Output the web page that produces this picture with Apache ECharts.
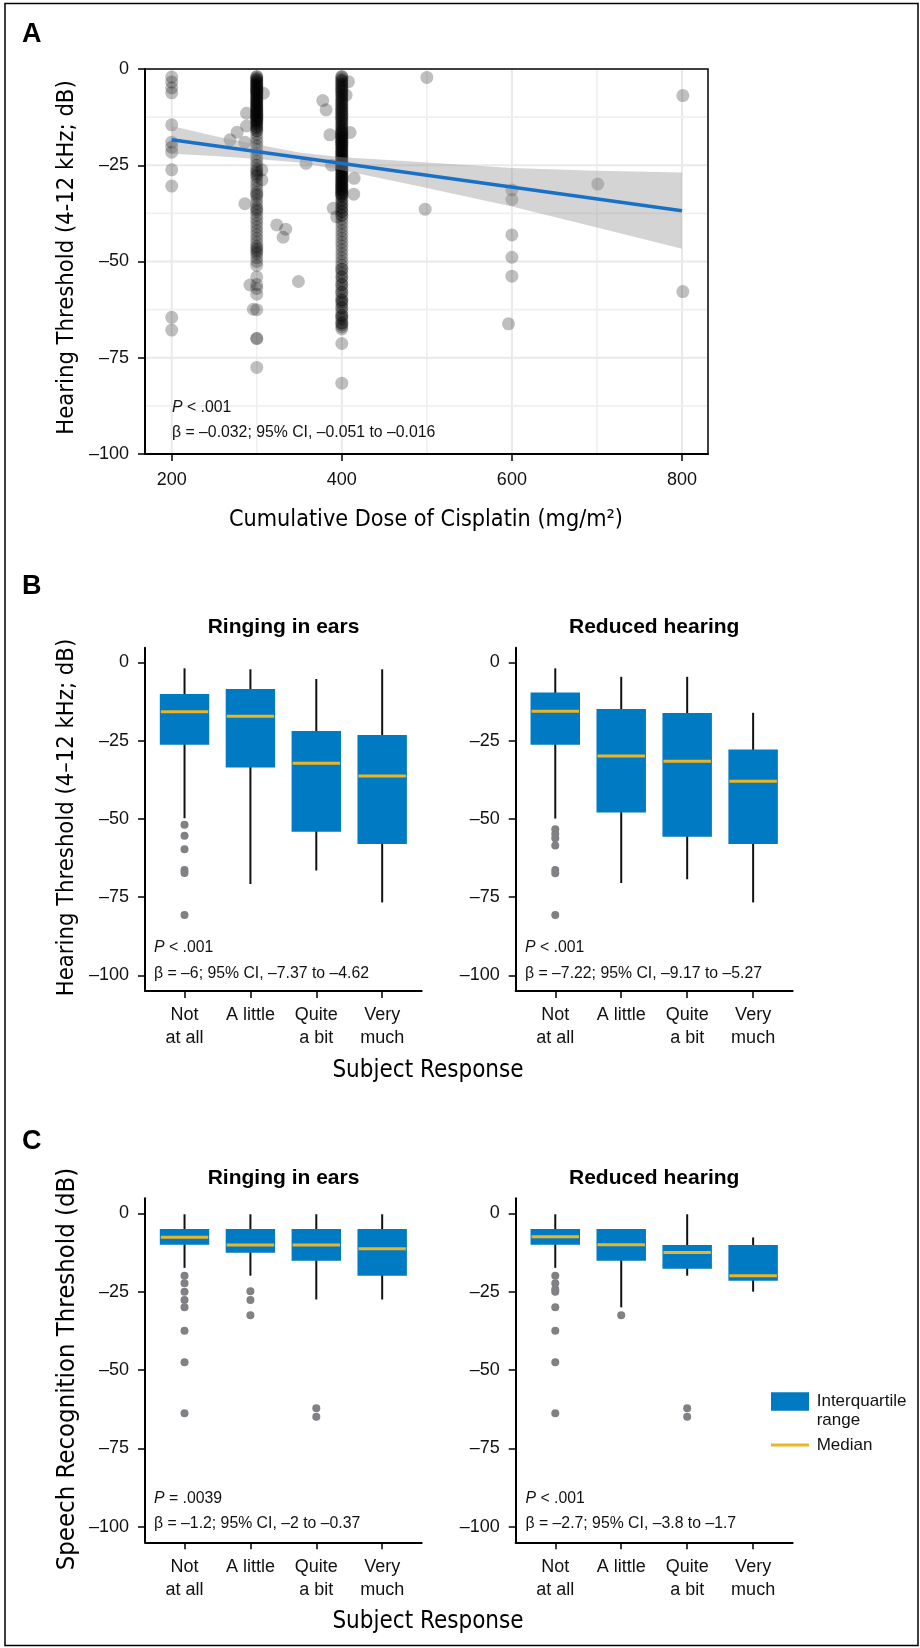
<!DOCTYPE html>
<html>
<head>
<meta charset="utf-8">
<script src="https://cdn.jsdelivr.net/npm/echarts/dist/echarts.min.js"></script>
<style>
  html, body { margin: 0; padding: 0; background: #fff; }
  #c { width: 920px; height: 1648px; }
</style>
</head>
<body>
<div id="c"></div>
<script>
// ---------------- DATA ----------------
// Panel A: scatter of hearing threshold vs cumulative cisplatin dose
const hearingAt300 = [
  -2, -2.5, -3, -3.5, -4, -4.5, -5, -5.5, -6, -6.5, -7, -7.5, -8, -8.5, -9, -9.5, -10, -10.5,
  -11, -11.5, -12, -12.5, -13, -13.5, -14, -14.5, -15, -15.5, -16, -17, -18,
  -2.5, -3.5, -4.5, -5.5, -6.5, -7.5, -8.5, -9.5, -10.5, -11.5, -12.5, -13.5, -2, -3, -4, -5,
  -6, -7, -8, -9, -10, -11, -12, -13, -14, -15, -16,
  -19, -20, -21, -22, -23, -24, -25, -26, -26.5, -27, -27.5, -28, -29, -30, -31, -32, -32.5,
  -33, -34, -35, -36, -36.5, -37, -38, -39, -40, -41, -42, -43, -44, -45, -46, -46.5, -47,
  -47.5, -48, -49, -50,
  -51, -54, -56, -57, -58.5, -62.5, -70, -70, -77.5
];
const hearingAt400 = [
  -2, -2.5, -3, -3.5, -4, -4.5, -5, -5.5, -6, -6.5, -7, -7.5, -8, -8.5, -9, -9.5, -10, -10.5,
  -11, -11.5, -12, -12.5, -13, -13.5, -14, -14.5, -15, -15.5, -16,
  -2, -3, -4, -5, -6, -7, -8, -9, -10, -11, -12, -13, -14, -15, -16,
  -16.5, -17, -17.5, -18, -18.5, -19, -19.5, -20, -20.5, -21, -21.5, -22, -22.5, -23, -23.5, -24, -24.5,
  -16.5, -17, -17.5, -18, -18.5, -19, -19.5, -20, -20.5, -21, -21.5, -22, -22.5, -23, -23.5, -24, -24.5,
  -25, -25.5, -26, -26.5, -27, -27.5, -28, -28.5, -29, -29.5, -30, -30.5, -31, -31.5, -32, -32.5, -33, -34,
  -25, -26, -27, -28, -29, -30, -31, -32, -33, -34, -35, -36, -37, -38,
  -25.5, -26.5, -27.5, -28.5, -29.5, -30.5, -31.5, -32.5,
  -35, -36, -37, -38, -39, -40, -41, -42, -43, -44, -45, -46, -47, -48, -49, -50,
  -51, -52, -53, -54, -55, -56, -57, -58, -59, -60, -60.5, -61, -62, -63, -64, -64.5, -65, -66,
  -66.5, -67, -67.5,
  -52, -54, -56, -58, -60, -62, -64, -66,
  -71.3, -81.6
];
const otherPoints = [ // [dose, threshold]
  [200, -2.1], [200, -3.4], [200, -4.9], [200, -6.2], [200, -14.5], [200, -19], [200, -20.3],
  [200, -21.6], [200, -26.2], [200, -30.4], [200, -64.5], [200, -67.8],
  [268.6, -18.4], [277, -16.4], [286, -35], [288, -11.5], [288, -14.8], [286, -19],
  [307.8, -6.3], [306, -26.2], [306, -28.8], [323.5, -40.5], [334, -41.6], [331, -43.7],
  [358, -24.5], [349, -55.2], [292, -56.1], [296, -62.4],
  [377.6, -8.2], [381.5, -10.6], [386, -17.1], [388, -25], [390, -36.2], [394, -38.4],
  [407.8, -3.3], [405, -6.8], [409.8, -16.5], [414.5, -28.4], [414, -32.5],
  [500, -2.2], [498, -36.4], [600, -31.4], [600, -33.9], [600, -43.1], [600, -48.9],
  [600, -53.8], [596, -66.2], [701, -29.9], [801, -6.9], [801, -57.8]
];
const fitDose = [200, 800];
const fitThreshold = [-18.4, -36.8];
const ciDose = [200, 250, 300, 350, 400, 450, 500, 600, 700, 800];
const ciUpper = [-14.8, -17.4, -19.6, -21.7, -22.9, -23.6, -24.3, -25.7, -26.4, -26.9];
const ciLower = [-22.0, -22.6, -23.4, -24.3, -26.3, -28.6, -30.9, -35.7, -41.2, -46.7];
const doseTicks = [200, 400, 600, 800];
const doseGridMajor = [200, 400, 600, 800];
const doseGridMinor = [300, 500, 700];
const thresholdTicks = [0, -25, -50, -75, -100];
const thresholdGridMajor = [-25, -50, -75];
const thresholdGridMinor = [-12.5, -37.5, -62.5, -87.5];

// Panels B and C: box plots, rows are [lower whisker, Q1, median, Q3, upper whisker]
const categories = ['Not\nat all', 'A little', 'Quite\na bit', 'Very\nmuch'];
const bRingingBoxes = [
  [-49.8, -26.3, -15.8, -10.1, -1.9],
  [-70.8, -33.6, -17.2, -8.5, -2.2],
  [-66.5, -54.1, -32.2, -21.9, -5.3],
  [-76.7, -58.0, -36.3, -23.2, -2.2]
];
const bRingingOutliers = [[1, -51.9], [1, -55.4], [1, -59.7], [1, -66.3], [1, -67.3], [1, -80.7]];
const bReducedBoxes = [
  [-49.9, -26.3, -15.6, -9.6, -1.9],
  [-70.5, -48.0, -29.9, -14.9, -4.6],
  [-69.3, -55.7, -31.6, -16.2, -4.6],
  [-76.7, -58.0, -38.0, -27.8, -16.1]
];
const bReducedOutliers = [[1, -53.3], [1, -54.8], [1, -56.2], [1, -58.5], [1, -66.3], [1, -67.4], [1, -80.7]];
const cRingingBoxes = [
  [-17.4, -10.0, -7.6, -5.0, -0.3],
  [-19.9, -12.6, -10.1, -5.0, -0.3],
  [-27.5, -15.1, -10.1, -5.0, -0.3],
  [-27.5, -19.9, -11.3, -5.0, -0.3]
];
const cRingingOutliers = [[1, -19.9], [1, -22.3], [1, -25], [1, -27.7], [1, -30], [1, -37.5], [1, -47.5],
  [1, -63.8], [2, -24.9], [2, -27.7], [2, -32.5], [3, -62.2], [3, -64.9]];
const cReducedBoxes = [
  [-17.4, -10.0, -7.5, -5.0, -0.3],
  [-30.0, -15.1, -10.0, -5.0, -5.0],
  [-19.9, -17.7, -12.5, -10.1, -0.3],
  [-25.0, -21.5, -19.9, -10.1, -7.7]
];
const cReducedOutliers = [[1, -19.9], [1, -22.3], [1, -24.2], [1, -25], [1, -30], [1, -37.5], [1, -47.5],
  [1, -63.8], [2, -32.5], [3, -62.2], [3, -64.9]];
const categoryTicks = [1, 2, 3, 4];

// ---------------- STYLE ----------------
const SANS = '"Liberation Sans", Arial, Helvetica, sans-serif';
const NARROW = '"DejaVu Sans Condensed", "Liberation Sans Narrow", sans-serif';
const BLUE = '#007AC2';
const YELLOW = '#EBB523';
const OUTLIER = '#808085';
const FIT = '#1a70c5';
const NOTE_FONT = '15.8px ' + SANS;

const minus = v => (v < 0 ? '\u2013' + Math.abs(v) : String(v));

function yAxisCfg(gridIndex, min, max) {
  return {
    gridIndex, type: 'value', min, max,
    axisLine: { show: true, onZero: false, lineStyle: { color: '#000', width: 2 } },
    axisTick: { show: true, customValues: thresholdTicks, length: 7, lineStyle: { color: '#000', width: 1.5 } },
    axisLabel: { customValues: thresholdTicks, formatter: minus, fontSize: 18, fontFamily: SANS, color: '#111', margin: 16 },
    splitLine: { show: false }
  };
}
function catAxisCfg(gridIndex) {
  return {
    gridIndex, type: 'value', min: 0.4, max: 4.6,
    axisLine: { show: true, onZero: false, lineStyle: { color: '#000', width: 2 } },
    axisTick: { show: true, customValues: categoryTicks, length: 7, lineStyle: { color: '#000', width: 1.5 } },
    axisLabel: { customValues: categoryTicks, formatter: v => categories[Math.round(v) - 1],
      fontSize: 18, lineHeight: 23, fontFamily: SANS, color: '#111', margin: 13 },
    splitLine: { show: false }
  };
}

function renderBox(params, api) {
  const x = api.value(0);
  const lo = api.value(1), q1 = api.value(2), md = api.value(3), q3 = api.value(4), hi = api.value(5);
  const w = api.size([0.75, 0])[0];
  const pLo = api.coord([x, lo]), pHi = api.coord([x, hi]);
  const pQ1 = api.coord([x, q1]), pQ3 = api.coord([x, q3]), pMd = api.coord([x, md]);
  return {
    type: 'group',
    children: [
      { type: 'line', shape: { x1: pLo[0], y1: pLo[1], x2: pHi[0], y2: pHi[1] }, style: { stroke: '#111', lineWidth: 2 } },
      { type: 'rect', shape: { x: pQ3[0] - w / 2, y: pQ3[1], width: w, height: pQ1[1] - pQ3[1] }, style: { fill: BLUE } },
      { type: 'line', shape: { x1: pMd[0] - w / 2 + 1, y1: pMd[1], x2: pMd[0] + w / 2 - 1, y2: pMd[1] }, style: { stroke: YELLOW, lineWidth: 3 } }
    ]
  };
}

function boxSeries(idx, boxes, outliers) {
  return [
    {
      type: 'custom', xAxisIndex: idx, yAxisIndex: idx, renderItem: renderBox, z: 2,
      data: boxes.map((b, i) => [i + 1, b[0], b[1], b[2], b[3], b[4]]),
      encode: { x: 0, y: [1, 2, 3, 4, 5] }, silent: true
    },
    {
      type: 'scatter', xAxisIndex: idx, yAxisIndex: idx, z: 3, symbolSize: 8,
      itemStyle: { color: OUTLIER, opacity: 1 }, data: outliers, silent: true
    }
  ];
}

// ---------------- TEXT HELPERS ----------------
function txt(x, y, text, font, opts) {
  opts = opts || {};
  return {
    type: 'text', x, y, rotation: opts.rotation || 0, z: 100,
    style: {
      text, font, fill: opts.fill || '#000',
      align: opts.align || 'left', textAlign: opts.align || 'left',
      verticalAlign: 'middle', textVerticalAlign: 'middle',
      lineHeight: opts.lineHeight
    }
  };
}
function richTxt(x, y, italicPart, rest) {
  const base = { fontSize: 15.8, fontFamily: SANS, fill: '#111', color: '#111' };
  return {
    type: 'text', x, y, z: 100,
    style: {
      text: '{i|' + italicPart + '}{n|' + rest + '}',
      fontSize: 15.8, fontFamily: SANS, fill: '#111',
      align: 'left', textAlign: 'left', verticalAlign: 'middle', textVerticalAlign: 'middle',
      rich: { i: Object.assign({ fontStyle: 'italic' }, base), n: base }
    }
  };
}

const graphics = [
  { type: 'rect', shape: { x: 5, y: 3.5, width: 913, height: 1642 }, style: { fill: 'none', stroke: '#000', lineWidth: 1.5 }, z: 100 },
  txt(22, 35, 'A', 'bold 27px ' + SANS),
  txt(22, 587, 'B', 'bold 27px ' + SANS),
  txt(22, 1142, 'C', 'bold 27px ' + SANS),
  // Panel A
  txt(67, 257.5, 'Hearing Threshold (4-12 kHz; dB)', '23.6px ' + NARROW, { align: 'center', rotation: Math.PI / 2 }),
  txt(426, 520, 'Cumulative Dose of Cisplatin (mg/m\u00B2)', '23.2px ' + NARROW, { align: 'center' }),
  richTxt(172, 408, 'P', ' < .001'),
  txt(172, 433, '\u03B2 = \u20130.032; 95% CI, \u20130.051 to \u20130.016', NOTE_FONT, { fill: '#111' }),
  // Panel B
  txt(283.5, 627, 'Ringing in ears', 'bold 21px ' + SANS, { align: 'center' }),
  txt(654.2, 627, 'Reduced hearing', 'bold 21px ' + SANS, { align: 'center' }),
  txt(67, 817.5, 'Hearing Threshold (4\u201312 kHz; dB)', '23.6px ' + NARROW, { align: 'center', rotation: Math.PI / 2 }),
  txt(428, 1070.5, 'Subject Response', '24px ' + NARROW, { align: 'center' }),
  richTxt(154, 948, 'P', ' < .001'),
  txt(154, 974, '\u03B2 = \u20136; 95% CI, \u20137.37 to \u20134.62', NOTE_FONT, { fill: '#111' }),
  richTxt(525, 948, 'P', ' < .001'),
  txt(525, 974, '\u03B2 = \u20137.22; 95% CI, \u20139.17 to \u20135.27', NOTE_FONT, { fill: '#111' }),
  // Panel C
  txt(283.5, 1178.5, 'Ringing in ears', 'bold 21px ' + SANS, { align: 'center' }),
  txt(654.2, 1178.5, 'Reduced hearing', 'bold 21px ' + SANS, { align: 'center' }),
  txt(67, 1369, 'Speech Recognition Threshold (dB)', '25.5px ' + NARROW, { align: 'center', rotation: Math.PI / 2 }),
  txt(428, 1621.5, 'Subject Response', '24px ' + NARROW, { align: 'center' }),
  richTxt(154, 1498.5, 'P', ' = .0039'),
  txt(154, 1524, '\u03B2 = \u20131.2; 95% CI, \u20132 to \u20130.37', NOTE_FONT, { fill: '#111' }),
  richTxt(525.5, 1498.5, 'P', ' < .001'),
  txt(525.5, 1524, '\u03B2 = \u20132.7; 95% CI, \u20133.8 to \u20131.7', NOTE_FONT, { fill: '#111' }),
  // Legend
  { type: 'rect', shape: { x: 771, y: 1392.3, width: 38, height: 18.4 }, style: { fill: BLUE }, z: 100 },
  { type: 'line', shape: { x1: 771, y1: 1445, x2: 809, y2: 1445 }, style: { stroke: YELLOW, lineWidth: 3 }, z: 100 },
  txt(816.7, 1410.5, 'Interquartile\nrange', '17px ' + SANS, { lineHeight: 19, fill: '#111' }),
  txt(816.7, 1445, 'Median', '17px ' + SANS, { fill: '#111' })
];

// ---------------- CHART ----------------
const chart = echarts.init(document.getElementById('c'), null, { renderer: 'canvas', width: 920, height: 1648 });

const scatterData = []
  .concat(hearingAt300.map(v => [300, v]))
  .concat(hearingAt400.map(v => [400, v]))
  .concat(otherPoints);

const option = {
  animation: false,
  backgroundColor: '#fff',
  grid: [
    { left: 145, top: 69, width: 563, height: 385, show: true, borderColor: '#000', borderWidth: 1.5, backgroundColor: 'transparent' },
    { left: 145, top: 647.7, width: 276.7, height: 343.3 },
    { left: 515.7, top: 647.7, width: 277, height: 343.3 },
    { left: 145, top: 1198.3, width: 276.7, height: 344 },
    { left: 515.7, top: 1198.3, width: 277, height: 344 }
  ],
  xAxis: [
    {
      gridIndex: 0, type: 'value', min: 168.6, max: 830.6,
      axisLine: { show: true, onZero: false, lineStyle: { color: '#000', width: 2 } },
      axisTick: { show: true, customValues: doseTicks, length: 7, lineStyle: { color: '#000', width: 1.5 } },
      axisLabel: { customValues: doseTicks, fontSize: 18, fontFamily: SANS, color: '#111', margin: 17 },
      splitLine: { show: false }
    },
    catAxisCfg(1), catAxisCfg(2), catAxisCfg(3), catAxisCfg(4)
  ],
  yAxis: [
    yAxisCfg(0, -100, 0),
    yAxisCfg(1, -105, 4.7), yAxisCfg(2, -105, 4.7),
    yAxisCfg(3, -105, 4.8), yAxisCfg(4, -105, 4.8)
  ],
  graphic: { elements: graphics },
  series: [
    // grid lines, panel A
    {
      type: 'custom', xAxisIndex: 0, yAxisIndex: 0, z: 1, silent: true, clip: false,
      data: doseGridMajor.map(v => [v, -50, 1]).concat(doseGridMinor.map(v => [v, -50, 0])),
      encode: { x: 0, y: 1 },
      renderItem: (params, api) => {
        const p = api.coord([api.value(0), -50]);
        const cs = params.coordSys;
        return { type: 'line', shape: { x1: p[0], y1: cs.y + 1, x2: p[0], y2: cs.y + cs.height - 1 },
          style: { stroke: api.value(2) ? '#e9e9e9' : '#efefef', lineWidth: api.value(2) ? 2 : 1.6 } };
      }
    },
    {
      type: 'custom', xAxisIndex: 0, yAxisIndex: 0, z: 1, silent: true, clip: false,
      data: thresholdGridMajor.map(v => [500, v, 1]).concat(thresholdGridMinor.map(v => [500, v, 0])),
      encode: { x: 0, y: 1 },
      renderItem: (params, api) => {
        const p = api.coord([500, api.value(1)]);
        const cs = params.coordSys;
        return { type: 'line', shape: { x1: cs.x + 1, y1: p[1], x2: cs.x + cs.width - 1, y2: p[1] },
          style: { stroke: api.value(2) ? '#e9e9e9' : '#efefef', lineWidth: api.value(2) ? 2 : 1.6 } };
      }
    },
    {
      type: 'scatter', xAxisIndex: 0, yAxisIndex: 0, z: 2, symbolSize: 13, silent: true,
      itemStyle: { color: '#000', opacity: 0.25 }, data: scatterData
    },
    {
      type: 'custom', xAxisIndex: 0, yAxisIndex: 0, z: 3, silent: true,
      data: ciDose.map((d, i) => [d, ciLower[i], ciUpper[i]]),
      encode: { x: 0, y: [1, 2] },
      renderItem: (params, api) => {
        if (params.dataIndex !== 0) return null;
        const pts = [];
        for (let i = 0; i < ciDose.length; i++) pts.push(api.coord([ciDose[i], ciUpper[i]]));
        for (let i = ciDose.length - 1; i >= 0; i--) pts.push(api.coord([ciDose[i], ciLower[i]]));
        return { type: 'polygon', shape: { points: pts }, style: { fill: 'rgba(153,153,153,0.42)' } };
      }
    },
    {
      type: 'line', xAxisIndex: 0, yAxisIndex: 0, z: 4, silent: true, showSymbol: false,
      lineStyle: { color: FIT, width: 3.5 },
      data: fitDose.map((d, i) => [d, fitThreshold[i]])
    }
  ]
    .concat(boxSeries(1, bRingingBoxes, bRingingOutliers))
    .concat(boxSeries(2, bReducedBoxes, bReducedOutliers))
    .concat(boxSeries(3, cRingingBoxes, cRingingOutliers))
    .concat(boxSeries(4, cReducedBoxes, cReducedOutliers))
};

chart.setOption(option);
</script>
</body>
</html>
